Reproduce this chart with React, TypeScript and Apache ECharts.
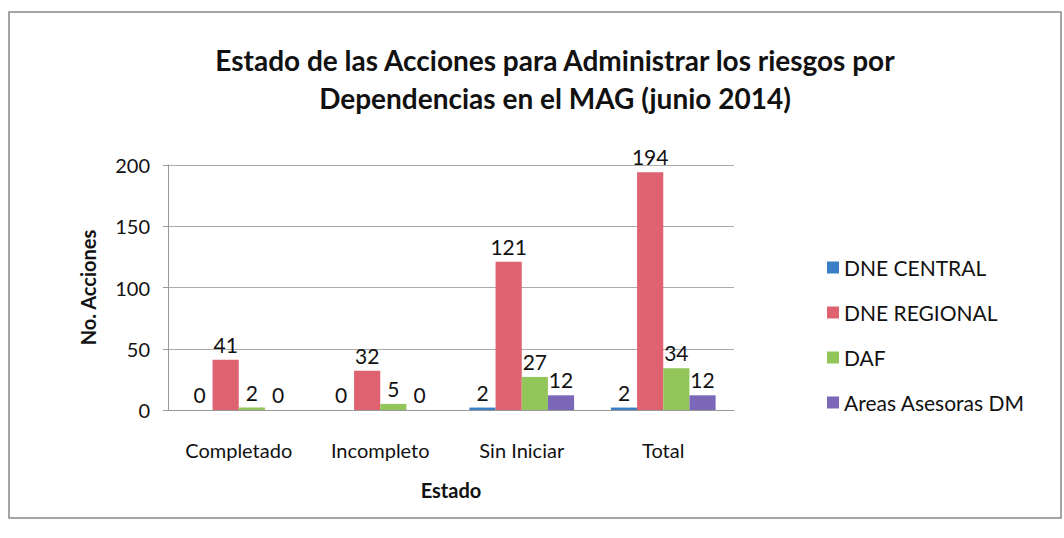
import React, { useEffect, useRef } from "react";
import * as echarts from "echarts";

const categories = ["Completado", "Incompleto", "Sin Iniciar", "Total"];
const seriesNames = ["DNE CENTRAL", "DNE REGIONAL", "DAF", "Areas Asesoras DM"];
const dneCentral = [0, 0, 2, 2];
const dneRegional = [41, 32, 121, 194];
const daf = [2, 5, 27, 34];
const areasAsesoras = [0, 0, 12, 12];
const colors = ["#3a7ec6", "#de6270", "#92c65a", "#7b68b8"];

const FONT = "Lato, 'Open Sans', sans-serif";

export default function App() {
  const ref = useRef<HTMLDivElement>(null);
  useEffect(() => {
    if (!ref.current) return;
    const chart = echarts.init(ref.current, undefined, { renderer: "svg" });
    const values = [dneCentral, dneRegional, daf, areasAsesoras];
    chart.setOption({
      animation: false,
      backgroundColor: "#ffffff",
      textStyle: { fontFamily: FONT },
      title: {
        text: "Estado de las Acciones para Administrar los riesgos por\nDependencias en el MAG (junio 2014)",
        left: 550,
        top: 36,
        textAlign: "center",
        textStyle: { fontSize: 28, fontWeight: "bold", color: "#111", lineHeight: 38, fontFamily: FONT },
      },
      legend: {
        orient: "vertical",
        left: 822,
        top: 252,
        itemGap: 24,
        itemWidth: 12,
        itemHeight: 12,
        icon: "rect",
        textStyle: { fontSize: 21, color: "#111", fontFamily: FONT },
        data: seriesNames,
      },
      grid: { left: 168, right: 330, top: 165, bottom: 128 },
      xAxis: {
        type: "category",
        data: categories,
        name: "Estado",
        nameLocation: "middle",
        nameGap: 70,
        nameTextStyle: { fontSize: 20, fontWeight: "bold", color: "#111" },
        axisLine: { lineStyle: { color: "#999" } },
        axisTick: { show: false },
        axisLabel: { fontSize: 20, color: "#111", margin: 30 },
      },
      yAxis: {
        type: "value",
        min: 0,
        max: 200,
        interval: 50,
        name: "No. Acciones",
        nameLocation: "middle",
        nameGap: 70,
        nameTextStyle: { fontSize: 20, fontWeight: "bold", color: "#111" },
        axisLine: { show: true, lineStyle: { color: "#999" } },
        axisTick: { show: true, lineStyle: { color: "#999" } },
        axisLabel: { fontSize: 20, color: "#111", margin: 18 },
        splitLine: { lineStyle: { color: "#aaa" } },
      },
      graphic: [
        {
          type: "rect",
          shape: { x: 9, y: 12, width: 1052, height: 506 },
          style: { fill: "none", stroke: "#888", lineWidth: 1.5 },
          silent: true,
        },
      ],
      series: seriesNames.map((name, i) => ({
        name,
        type: "bar",
        data: values[i],
        barGap: "0%",
        barCategoryGap: "26%",
        itemStyle: { color: colors[i] },
        label: { show: true, position: "top", fontSize: 21, color: "#111", fontFamily: FONT },
      })),
    });
    return () => chart.dispose();
  }, []);
  return <div ref={ref} style={{ width: 1064, height: 538, position: "absolute", left: 0, top: 0 }} />;
}
